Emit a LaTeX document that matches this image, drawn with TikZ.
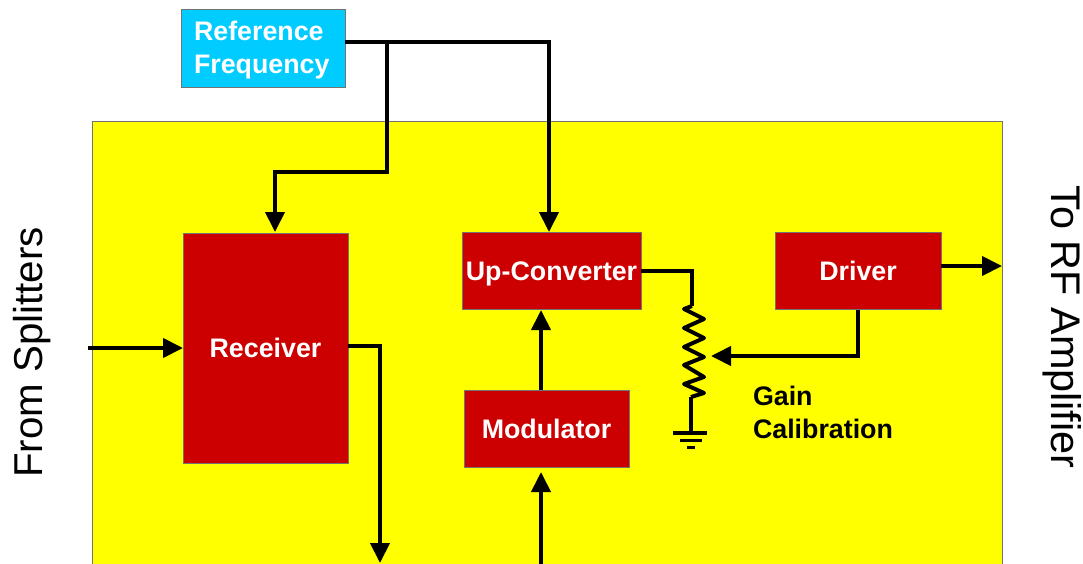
\documentclass[tikz,border=0pt]{standalone}
\usepackage{fontspec}
\setmainfont{Liberation Sans}
\usepackage{xcolor}
\usetikzlibrary{positioning}
\usetikzlibrary{arrows.meta}
\definecolor{myyellow}{RGB}{255,255,0}
\definecolor{myred}{RGB}{204,0,0}
\definecolor{mycyan}{RGB}{0,204,255}
\colorlet{myedge}{black!55}
\tikzstyle{mynode}=[align=left, inner sep=0, outer sep=0, font=\fontsize{26.8}{33}\selectfont\bfseries]
\tikzstyle{blockred}=[mynode, rectangle, fill=myred, draw=myedge, line width=1pt, text=white, minimum width=165pt, minimum height=77pt, text height=19.5pt, text depth=0pt]
\tikzstyle{sidelabel}=[inner sep=0]
\tikzstyle{connect}=[line width=4pt, line join=miter]
\tikzstyle{connect arrow}=[-{Triangle[length=20pt,width=19pt]},connect]

\begin{document}
\begin{tikzpicture}[x=1pt, y=-1pt]
\useasboundingbox (0,0) rectangle (1083,563);
\clip (0,0) rectangle (1083,563);

\node[rectangle, fill=myyellow, draw=myedge, line width=1pt, inner sep=0, outer sep=0, minimum width=910pt, minimum height=470pt, anchor=north west] (board) at (92,121) {};

\node[mynode, rectangle, fill=mycyan, draw=myedge, line width=1pt, text=white, minimum width=164pt, minimum height=78pt, text width=138pt] (reffreq) at (263,48) {\rule{0pt}{24pt}Reference\\Frequency};

\node[blockred, minimum height=230pt] (receiver) at (265.5,348) {Receiver};
\node[blockred, minimum width=179pt] (upconv) at (551.5,271) {Up-Converter};
\node[blockred] (modulator) at (546.5,429) {Modulator};
\node[blockred, minimum width=166pt, on grid] (driver) [right=306.5pt of upconv] {Driver};

\node[mynode, anchor=west] (gain) at (753,412.5) {Gain\\Calibration};

\node[sidelabel, rotate=90, font=\fontsize{40.3}{48}\selectfont] (splitters) at (32,352.5) {From Splitters};
\node[sidelabel, rotate=-90, font=\fontsize{41.4}{48}\selectfont] (rfamp) at (1062,327) {To RF Amplifier};

% free ends
\coordinate (rf_in) at (88,348);
\coordinate (rf_out) at (1002,266);
\coordinate (rx_down) at (380,563);
\coordinate (mod_in) at (541,575);
\coordinate (branch) at (387,42);
\coordinate (res_top) at (692,306);
\coordinate (res_bot) at (691,397);
\coordinate (wiper) at (711,356);
\coordinate (gnd) at (691,432);

\begin{scope}[connect arrow]
    \draw (reffreq.east |- branch) -- (branch) -- (549,42) -- (549,232);
    \draw (branch) -- (387,172) -- (275,172) -- (275,232);

    \draw (rf_in) -- (receiver.west);
    \draw (receiver.east |- 0,346) -- (380,346) -- (rx_down);

    \draw (mod_in) -- (541,472);
    \draw (541,390) -- (541,310);

    \draw (driver.east |- rf_out) -- (rf_out);
    \draw (driver.south) -- (858,356) -- (wiper);
\end{scope}

\begin{scope}[connect]
    \draw (upconv.east) -- (692,271) -- (res_top);
    \draw[line join=round] (res_top) -- (684,309) -- (704,319) -- (684,328) -- (704,338) -- (684,347) -- (704,357) -- (684,365) -- (704,377) -- (684,384) -- (704,393) -- (res_bot);
    \draw (res_bot) -- (gnd);
    \draw (673,432.5) -- (707,432.5);
    \draw[line width=3pt] (680,440) -- (702,440);
    \draw[line width=3pt] (687,447) -- (695,447);
\end{scope}

\end{tikzpicture}
\end{document}
